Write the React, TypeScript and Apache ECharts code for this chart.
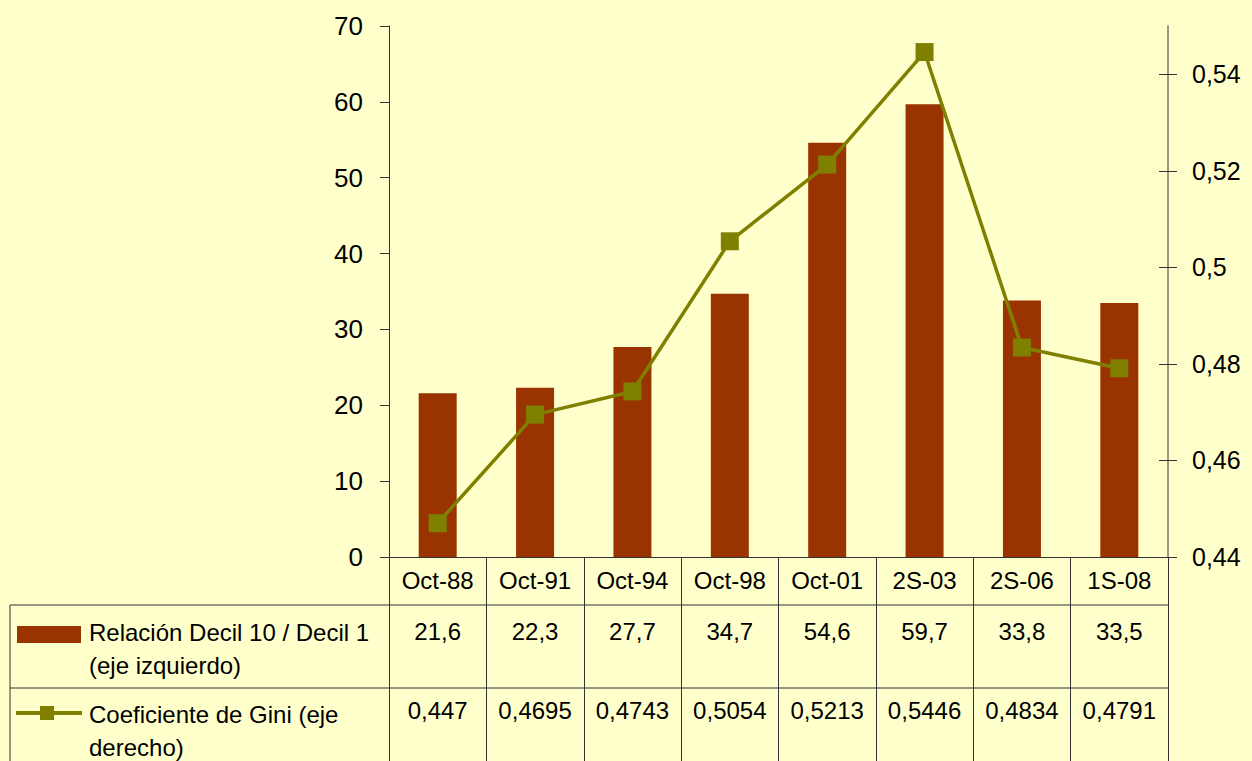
import React, { useEffect, useRef } from "react";
import * as echarts from "echarts";

const categories = ["Oct-88", "Oct-91", "Oct-94", "Oct-98", "Oct-01", "2S-03", "2S-06", "1S-08"];
const ratioValues = [21.6, 22.3, 27.7, 34.7, 54.6, 59.7, 33.8, 33.5];
const giniValues = [0.447, 0.4695, 0.4743, 0.5054, 0.5213, 0.5446, 0.4834, 0.4791];
const rightTicks = [0.44, 0.46, 0.48, 0.5, 0.52, 0.54];
const ratioName = ["Relación Decil 10 / Decil 1", "(eje izquierdo)"];
const giniName = ["Coeficiente de Gini (eje", "derecho)"];

const FONT = "'Liberation Sans', Arial, sans-serif";
const BAR = "#993300";
const LINE = "#808000";
const BORDER = "#333333";

const fmt = (v: number) => String(v).replace(".", ",");

export default function App() {
  const ref = useRef<HTMLDivElement>(null);
  useEffect(() => {
    if (!ref.current) return;
    const chart = echarts.init(ref.current, null, { renderer: "svg" });
    const gridLeft = 389;
    const gridRight = 1168;
    const gridTop = 26;
    const gridBottom = 557;
    chart.setOption({
      animation: false,
      backgroundColor: "#FFFFCC",
      textStyle: { fontFamily: FONT },
      grid: { left: gridLeft, right: 1252 - gridRight, top: gridTop, bottom: 761 - gridBottom, containLabel: false },
      xAxis: {
        type: "category",
        data: categories,
        boundaryGap: true,
        axisLine: { lineStyle: { color: BORDER, width: 1 } },
        axisTick: { show: true, length: 204, interval: 0, lineStyle: { color: BORDER, width: 1 } },
        axisLabel: { interval: 0, color: "#000", fontSize: 24, fontFamily: FONT, margin: 11 },
      },
      yAxis: [
        {
          type: "value",
          min: 0,
          max: 70,
          interval: 10,
          position: "left",
          splitLine: { show: false },
          axisLine: { show: true, lineStyle: { color: BORDER, width: 1 } },
          axisTick: { show: true, length: 9, lineStyle: { color: BORDER } },
          axisLabel: { color: "#000", fontSize: 26, fontFamily: FONT, margin: 26 },
        },
        {
          type: "value",
          min: 0.44,
          max: 0.55,
          position: "right",
          splitLine: { show: false },
          axisLine: { show: true, lineStyle: { color: "#777766", width: 1.5 } },
          axisTick: { show: true, length: 9, customValues: rightTicks, lineStyle: { color: BORDER } },
          axisLabel: {
            color: "#000",
            fontSize: 25,
            fontFamily: FONT,
            margin: 24,
            customValues: rightTicks,
            formatter: (v: number) => fmt(Math.round(v * 100) / 100),
          },
        },
        {
          type: "value",
          min: 0.44,
          max: 0.55,
          position: "right",
          splitLine: { show: false },
          axisLine: { show: false },
          axisTick: { show: true, inside: true, length: 9, customValues: rightTicks, lineStyle: { color: BORDER } },
          axisLabel: { show: false },
        },
      ],
      series: [
        {
          type: "bar",
          name: ratioName.join(" "),
          data: ratioValues,
          yAxisIndex: 0,
          barWidth: 38,
          itemStyle: { color: BAR },
          z: 2,
        },
        {
          type: "line",
          name: giniName.join(" "),
          data: giniValues,
          yAxisIndex: 1,
          symbol: "rect",
          symbolSize: 18,
          lineStyle: { color: LINE, width: 3.5 },
          itemStyle: { color: LINE },
          z: 3,
        },
      ],
    });

    const row1Top = 605;
    const row2Top = 688;
    const graphics: any[] = [
      { type: "line", shape: { x1: 10, y1: row1Top, x2: gridRight, y2: row1Top }, style: { stroke: BORDER, lineWidth: 1 } },
      { type: "line", shape: { x1: 10, y1: row2Top, x2: gridRight, y2: row2Top }, style: { stroke: BORDER, lineWidth: 1 } },
      { type: "line", shape: { x1: 10, y1: row1Top, x2: 10, y2: 761 }, style: { stroke: BORDER, lineWidth: 1 } },
      { type: "rect", shape: { x: 17, y: 626, width: 64, height: 17 }, style: { fill: BAR } },
      { type: "line", shape: { x1: 16, y1: 713, x2: 82, y2: 713 }, style: { stroke: LINE, lineWidth: 4 } },
      { type: "rect", shape: { x: 40, y: 706, width: 14, height: 14 }, style: { fill: LINE } },
    ];
    ratioName.forEach((t, i) => {
      graphics.push({
        type: "text",
        x: 89,
        y: 632 + i * 33,
        style: { text: t, fill: "#000", font: `24px ${FONT}`, textAlign: "left", textVerticalAlign: "middle" },
      });
    });
    giniName.forEach((t, i) => {
      graphics.push({
        type: "text",
        x: 89,
        y: 714 + i * 33,
        style: { text: t, fill: "#000", font: `24px ${FONT}`, textAlign: "left", textVerticalAlign: "middle" },
      });
    });
    categories.forEach((c, i) => {
      const x = chart.convertToPixel({ xAxisIndex: 0 }, c) as number;
      graphics.push({
        type: "text",
        x,
        y: 631,
        style: { text: fmt(ratioValues[i]), fill: "#000", font: `24px ${FONT}`, textAlign: "center", textVerticalAlign: "middle" },
      });
      graphics.push({
        type: "text",
        x,
        y: 710,
        style: { text: fmt(giniValues[i]), fill: "#000", font: `24px ${FONT}`, textAlign: "center", textVerticalAlign: "middle" },
      });
    });
    chart.setOption({ graphic: { elements: graphics } });
    return () => chart.dispose();
  }, []);
  return <div ref={ref} style={{ position: "fixed", left: 0, top: 0, width: 1252, height: 761 }} />;
}
